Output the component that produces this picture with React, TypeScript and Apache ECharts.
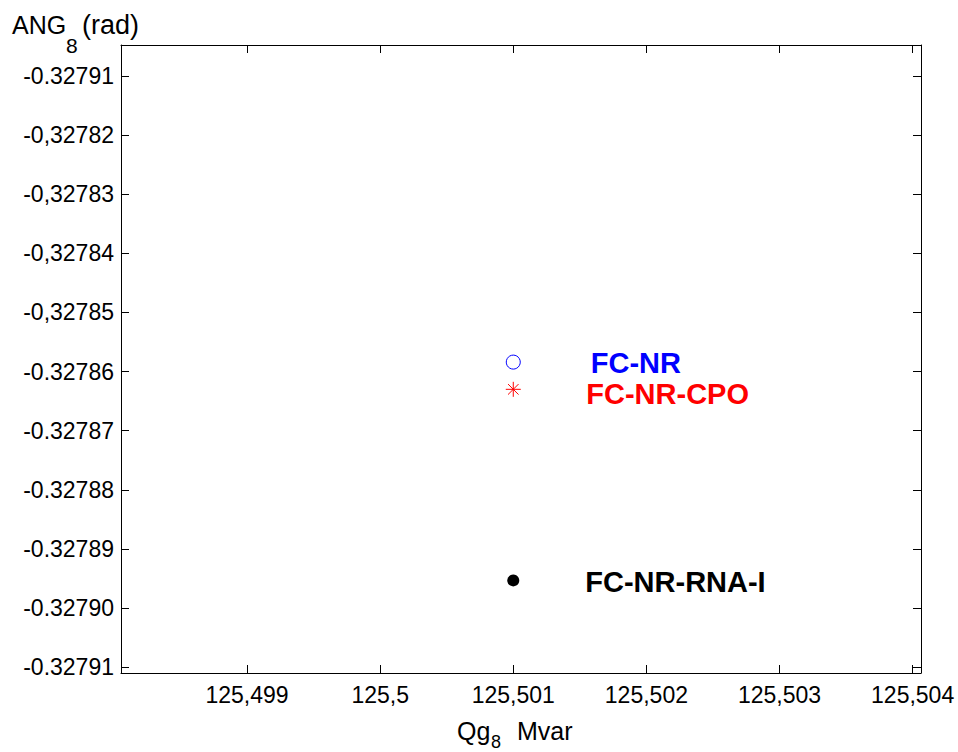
import React, { useEffect, useRef } from "react";
import * as echarts from "echarts";

// Data
const seriesNames = ["FC-NR", "FC-NR-CPO", "FC-NR-RNA-I"];
const seriesColors = ["#0000ff", "#ff0000", "#000000"];
const qgValues = [125.501, 125.501, 125.501];
const angValues = [-0.3278584, -0.327863, -0.3278953];

const xTickValues = [125.499, 125.5, 125.501, 125.502, 125.503, 125.504];
const xTickLabels = ["125,499", "125,5", "125,501", "125,502", "125,503", "125,504"];

const yTickValues = [
  -0.32791, -0.3279, -0.32789, -0.32788, -0.32787, -0.32786, -0.32785, -0.32784, -0.32783,
  -0.32782, -0.32781,
];
const yTickLabels = [
  "-0.32791", "-0.32790", "-0.32789", "-0.32788", "-0.32787", "-0.32786", "-0,32785",
  "-0,32784", "-0,32783", "-0,32782", "-0.32791",
];

const X_MIN = 125.498053;
const X_MAX = 125.504063;
const Y_MIN = -0.32791095;
const Y_MAX = -0.3278048;

const FONT = "'Liberation Sans', Arial, Helvetica, sans-serif";

const starPath =
  "path://M0,8L16,8M8,0L8,16M2.4,2.4L13.6,13.6M13.6,2.4L2.4,13.6";

function fmtFrom(values: number[], labels: string[]) {
  return (v: number) => {
    for (let i = 0; i < values.length; i++) {
      if (Math.abs(values[i] - v) < 1e-9) return labels[i];
    }
    return "";
  };
}

export default function App() {
  const ref = useRef<HTMLDivElement>(null);

  useEffect(() => {
    document.body.style.margin = "0";
    if (!ref.current) return;
    const chart = echarts.init(ref.current, null, { renderer: "svg" });

    const axisLine = { show: true, onZero: false, lineStyle: { color: "#000", width: 1 } };
    const xTick = {
      show: true,
      inside: true,
      length: 8,
      customValues: xTickValues,
      lineStyle: { color: "#000", width: 1 },
    };
    const yTick = {
      show: true,
      inside: true,
      length: 8,
      customValues: yTickValues,
      lineStyle: { color: "#000", width: 1 },
    };

    const symbols = ["circle", starPath, "circle"];
    const sizes = [14, 15, 12];
    const fills = ["rgba(0,0,0,0)", "rgba(0,0,0,0)", "#000000"];
    const borderWidths = [1, 1, 0];
    const distances = [70, 65, 66];
    const offsets = [
      [0, 1],
      [0, 4.5],
      [0, 2],
    ];

    const series = seriesNames.map((name, i) => ({
      name,
      type: "scatter",
      data: [[qgValues[i], angValues[i]]],
      symbol: symbols[i],
      symbolSize: sizes[i],
      itemStyle: {
        color: fills[i],
        borderColor: seriesColors[i],
        borderWidth: borderWidths[i],
        opacity: 1,
      },
      label: {
        show: true,
        formatter: name,
        position: "right",
        distance: distances[i],
        offset: offsets[i],
        color: seriesColors[i],
        fontFamily: FONT,
        fontWeight: "bold",
        fontSize: 29,
      },
      emphasis: { disabled: true },
      silent: true,
    }));

    chart.setOption({
      animation: false,
      backgroundColor: "#ffffff",
      grid: { left: 121, right: 37, top: 45, bottom: 79, containLabel: false },
      xAxis: [
        {
          type: "value",
          position: "bottom",
          min: X_MIN,
          max: X_MAX,
          axisLine,
          axisTick: xTick,
          splitLine: { show: false },
          axisLabel: {
            show: true,
            customValues: xTickValues,
            formatter: fmtFrom(xTickValues, xTickLabels),
            color: "#000",
            fontFamily: FONT,
            fontSize: 23,
            margin: 10,
          },
        },
        {
          type: "value",
          position: "top",
          min: X_MIN,
          max: X_MAX,
          axisLine,
          axisTick: xTick,
          splitLine: { show: false },
          axisLabel: { show: false },
        },
      ],
      yAxis: [
        {
          type: "value",
          position: "left",
          min: Y_MIN,
          max: Y_MAX,
          axisLine,
          axisTick: yTick,
          splitLine: { show: false },
          axisLabel: {
            show: true,
            customValues: yTickValues,
            formatter: fmtFrom(yTickValues, yTickLabels),
            color: "#000",
            fontFamily: FONT,
            fontSize: 23,
            margin: 7,
          },
        },
        {
          type: "value",
          position: "right",
          min: Y_MIN,
          max: Y_MAX,
          axisLine,
          axisTick: yTick,
          splitLine: { show: false },
          axisLabel: { show: false },
        },
      ],
      graphic: [
        {
          type: "text",
          x: 12,
          y: 25,
          silent: true,
          style: { text: "ANG", fontFamily: FONT, fontSize: 25, fill: "#000", verticalAlign: "middle", align: "left" },
        },
        {
          type: "text",
          x: 66,
          y: 45,
          silent: true,
          style: { text: "8", fontFamily: FONT, fontSize: 21, fill: "#000", verticalAlign: "middle", align: "left" },
        },
        {
          type: "text",
          x: 82,
          y: 25,
          silent: true,
          style: { text: "(rad)", fontFamily: FONT, fontSize: 27, fill: "#000", verticalAlign: "middle", align: "left" },
        },
        {
          type: "text",
          x: 457,
          y: 731,
          silent: true,
          style: { text: "Qg", fontFamily: FONT, fontSize: 25, fill: "#000", verticalAlign: "middle", align: "left" },
        },
        {
          type: "text",
          x: 491,
          y: 742,
          silent: true,
          style: { text: "8", fontFamily: FONT, fontSize: 18, fill: "#000", verticalAlign: "middle", align: "left" },
        },
        {
          type: "text",
          x: 517,
          y: 731,
          silent: true,
          style: { text: "Mvar", fontFamily: FONT, fontSize: 25, fill: "#000", verticalAlign: "middle", align: "left" },
        },
      ],
      series,
    });

    return () => chart.dispose();
  }, []);

  return <div ref={ref} style={{ width: 958, height: 752 }} />;
}
